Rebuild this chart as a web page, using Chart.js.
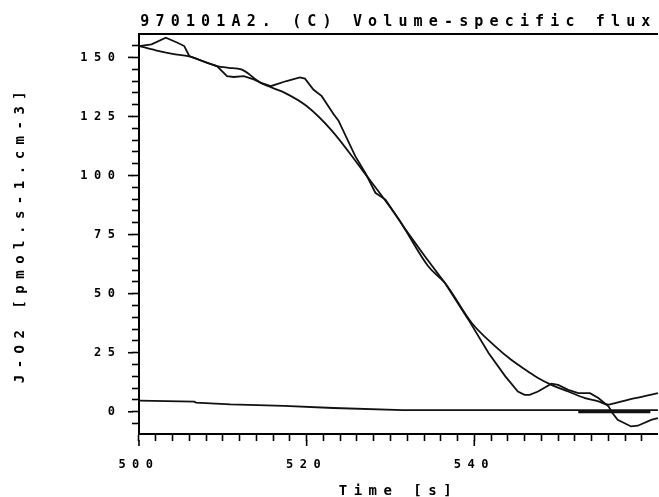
<!DOCTYPE html>
<html><head><meta charset="utf-8">
<script src="https://cdn.jsdelivr.net/npm/chart.js@4"></script>
<style>html,body{margin:0;padding:0;background:#fff;} #wrap{width:659px;height:497px;position:relative;}</style>
</head><body><div id="wrap"><canvas id="c"></canvas></div>
<script>
const chartTitle = '970101A2. (C) Volume-specific flux';
const xAxisTitle = 'Time [s]';
const yAxisTitle = 'J-O2 [pmol.s-1.cm-3]';

// measured flux (wiggly trace)
const measuredTime = [500, 501.5, 503.2, 504.6, 505.4, 506, 507.5, 509.3, 510.5, 511.3, 512.5, 513.7, 514.5, 515.7, 517.6, 519.2, 519.8, 520.8, 521.8, 523.2, 523.8, 525.8, 527, 528.2, 529.4, 531, 531.8, 534.1, 536.5, 539.3, 541.7, 543.7, 545.2, 546, 546.6, 547.6, 549.2, 550, 551.2, 552.4, 553.8, 554.8, 556, 556.5, 557.1, 558.7, 559.5, 561.1, 561.9];
const measuredFlux = [154.8, 155.5, 158.3, 156.2, 154.8, 150.6, 148.5, 146.3, 142.1, 141.7, 142.1, 140.7, 139.3, 137.8, 140, 141.5, 141, 136.4, 133.6, 126, 123.2, 108.2, 101.1, 92.7, 89.8, 81.4, 77.1, 65.8, 54.5, 39, 24.9, 15, 8.6, 7.2, 7.2, 8.6, 11.9, 11.4, 9.3, 7.9, 7.9, 5.8, 2.3, -0.6, -3.4, -6.2, -5.9, -3.4, -2.7];

// smooth trace
const fitTime = [500, 502, 504, 506, 509.3, 510.7, 512.2, 514.5, 515.2, 517.4, 520, 523, 526.6, 531, 534.5, 536.5, 539.7, 542.5, 544.4, 546.4, 547.6, 549.2, 551.2, 553.2, 554.8, 556, 556.8, 559.2, 561.9];
const fitFlux = [154.8, 153, 151.5, 150.4, 146.3, 145.6, 144.9, 139.3, 138.1, 135, 129.4, 119, 102.5, 81.4, 61.6, 54.5, 37.6, 27.7, 22, 17.1, 14.3, 11.4, 8.6, 5.8, 4.4, 3, 3.7, 5.8, 7.9];

// baseline trace
const baseTime = [500, 506.6, 506.8, 510.9, 517.3, 523.2, 531.5, 545, 561.9];
const baseFlux = [4.7, 4.3, 3.9, 3.1, 2.5, 1.6, 0.7, 0.7, 0.7];

// short thick zero segment
const zeroTime = [552.4, 561];
const zeroFlux = [0, 0];

const xLabelValues = [500, 520, 540];
const yLabelValues = [0, 25, 50, 75, 100, 125, 150];
const xMin = 500, xMax = 561.9, yMin = -9.4, yMax = 159.9;
const xMinorStep = 2, yMinorStep = 5;

const toPts = (xs, ys) => xs.map((x, i) => ({x: x, y: ys[i]}));
const isLabelled = (list, v) => list.some(l => Math.abs(l - v) < 1e-6);

const spacingBySize = {12: 6.5, 14: 6.5, 15: 6.15};
const textSpacing = {
  id: 'textSpacing',
  beforeInit(chart) {
    const ctx = chart.ctx;
    const proto = CanvasRenderingContext2D.prototype;
    const sp = c => {
      const m = /(\d+(?:\.\d+)?)px/.exec(c.font);
      const s = m ? spacingBySize[Math.round(parseFloat(m[1]))] : 0;
      if ('letterSpacing' in c) c.letterSpacing = (s || 0) + 'px';
    };
    ctx.fillText = function(...a) { sp(this); return proto.fillText.apply(this, a); };
    ctx.measureText = function(...a) { sp(this); return proto.measureText.apply(this, a); };
  }
};

const TICK = 7, MAJOR_EXTRA = 5;
const majorTicks = {
  id: 'majorTicks',
  afterDraw(chart) {
    const ctx = chart.ctx, x = chart.scales.x, y = chart.scales.y;
    ctx.save();
    ctx.strokeStyle = '#000';
    ctx.lineWidth = 1.6;
    x.ticks.forEach(t => {
      if (isLabelled(xLabelValues, t.value)) {
        const px = x.getPixelForValue(t.value);
        ctx.beginPath(); ctx.moveTo(px, x.top + TICK - 1); ctx.lineTo(px, x.top + TICK + MAJOR_EXTRA); ctx.stroke();
      }
    });
    y.ticks.forEach(t => {
      if (isLabelled(yLabelValues, t.value)) {
        const py = y.getPixelForValue(t.value);
        ctx.beginPath(); ctx.moveTo(y.right - TICK + 1, py); ctx.lineTo(y.right - TICK - MAJOR_EXTRA + 1, py); ctx.stroke();
      }
    });
    ctx.restore();
  }
};

const monoFont = (size) => ({family: "'DejaVu Sans Mono', 'Liberation Mono', monospace", size: size, weight: 'bold', lineHeight: 1.2});
const lineDs = (xs, ys, w) => ({data: toPts(xs, ys), borderColor: '#111', borderWidth: w, pointRadius: 0, fill: false, tension: 0});

new Chart(document.getElementById('c'), {
  type: 'line',
  data: {
    datasets: [
      lineDs(measuredTime, measuredFlux, 1.8),
      Object.assign(lineDs(fitTime, fitFlux, 1.8), {cubicInterpolationMode: 'monotone'}),
      lineDs(baseTime, baseFlux, 1.8),
      lineDs(zeroTime, zeroFlux, 3)
    ]
  },
  options: {
    responsive: true,
    maintainAspectRatio: false,
    animation: false,
    layout: {padding: {left: 0, right: 0, top: 0, bottom: -2.4}},
    plugins: {
      legend: {display: false},
      tooltip: {enabled: false},
      title: {
        display: true, text: chartTitle, fullSize: false, align: 'center', color: '#000',
        font: monoFont(15), padding: {top: 13, bottom: 3}
      }
    },
    scales: {
      x: {
        type: 'linear', position: 'bottom', min: xMin, max: xMax,
        border: {display: true, color: '#000', width: 2},
        grid: {display: true, drawOnChartArea: false, drawTicks: true, tickLength: TICK, tickColor: '#000', tickWidth: 1.6},
        ticks: {
          stepSize: xMinorStep, includeBounds: false, autoSkip: false, maxRotation: 0, color: '#000', padding: 17,
          font: monoFont(12),
          callback: v => (isLabelled(xLabelValues, v) ? String(v) : '')
        },
        title: {display: true, text: xAxisTitle, color: '#000', font: monoFont(14), padding: {top: -6.8, bottom: 0}}
      },
      xTop: {
        type: 'linear', position: 'top', min: xMin, max: xMax,
        border: {display: true, color: '#000', width: 2},
        grid: {display: false, drawTicks: false, tickLength: 0},
        ticks: {display: false}
      },
      y: {
        type: 'linear', min: yMin, max: yMax,
        border: {display: true, color: '#000', width: 2},
        grid: {display: true, drawOnChartArea: false, drawTicks: true, tickLength: TICK, tickColor: '#000', tickWidth: 1.6},
        ticks: {
          stepSize: yMinorStep, includeBounds: false, autoSkip: false, color: '#000', padding: 10.5,
          font: monoFont(12),
          callback: v => (isLabelled(yLabelValues, v) ? String(v) : '')
        },
        title: {display: true, text: yAxisTitle, color: '#000', font: monoFont(14), padding: {top: 12, bottom: 41}}
      }
    }
  },
  plugins: [textSpacing, majorTicks]
});
</script>
</body></html>
